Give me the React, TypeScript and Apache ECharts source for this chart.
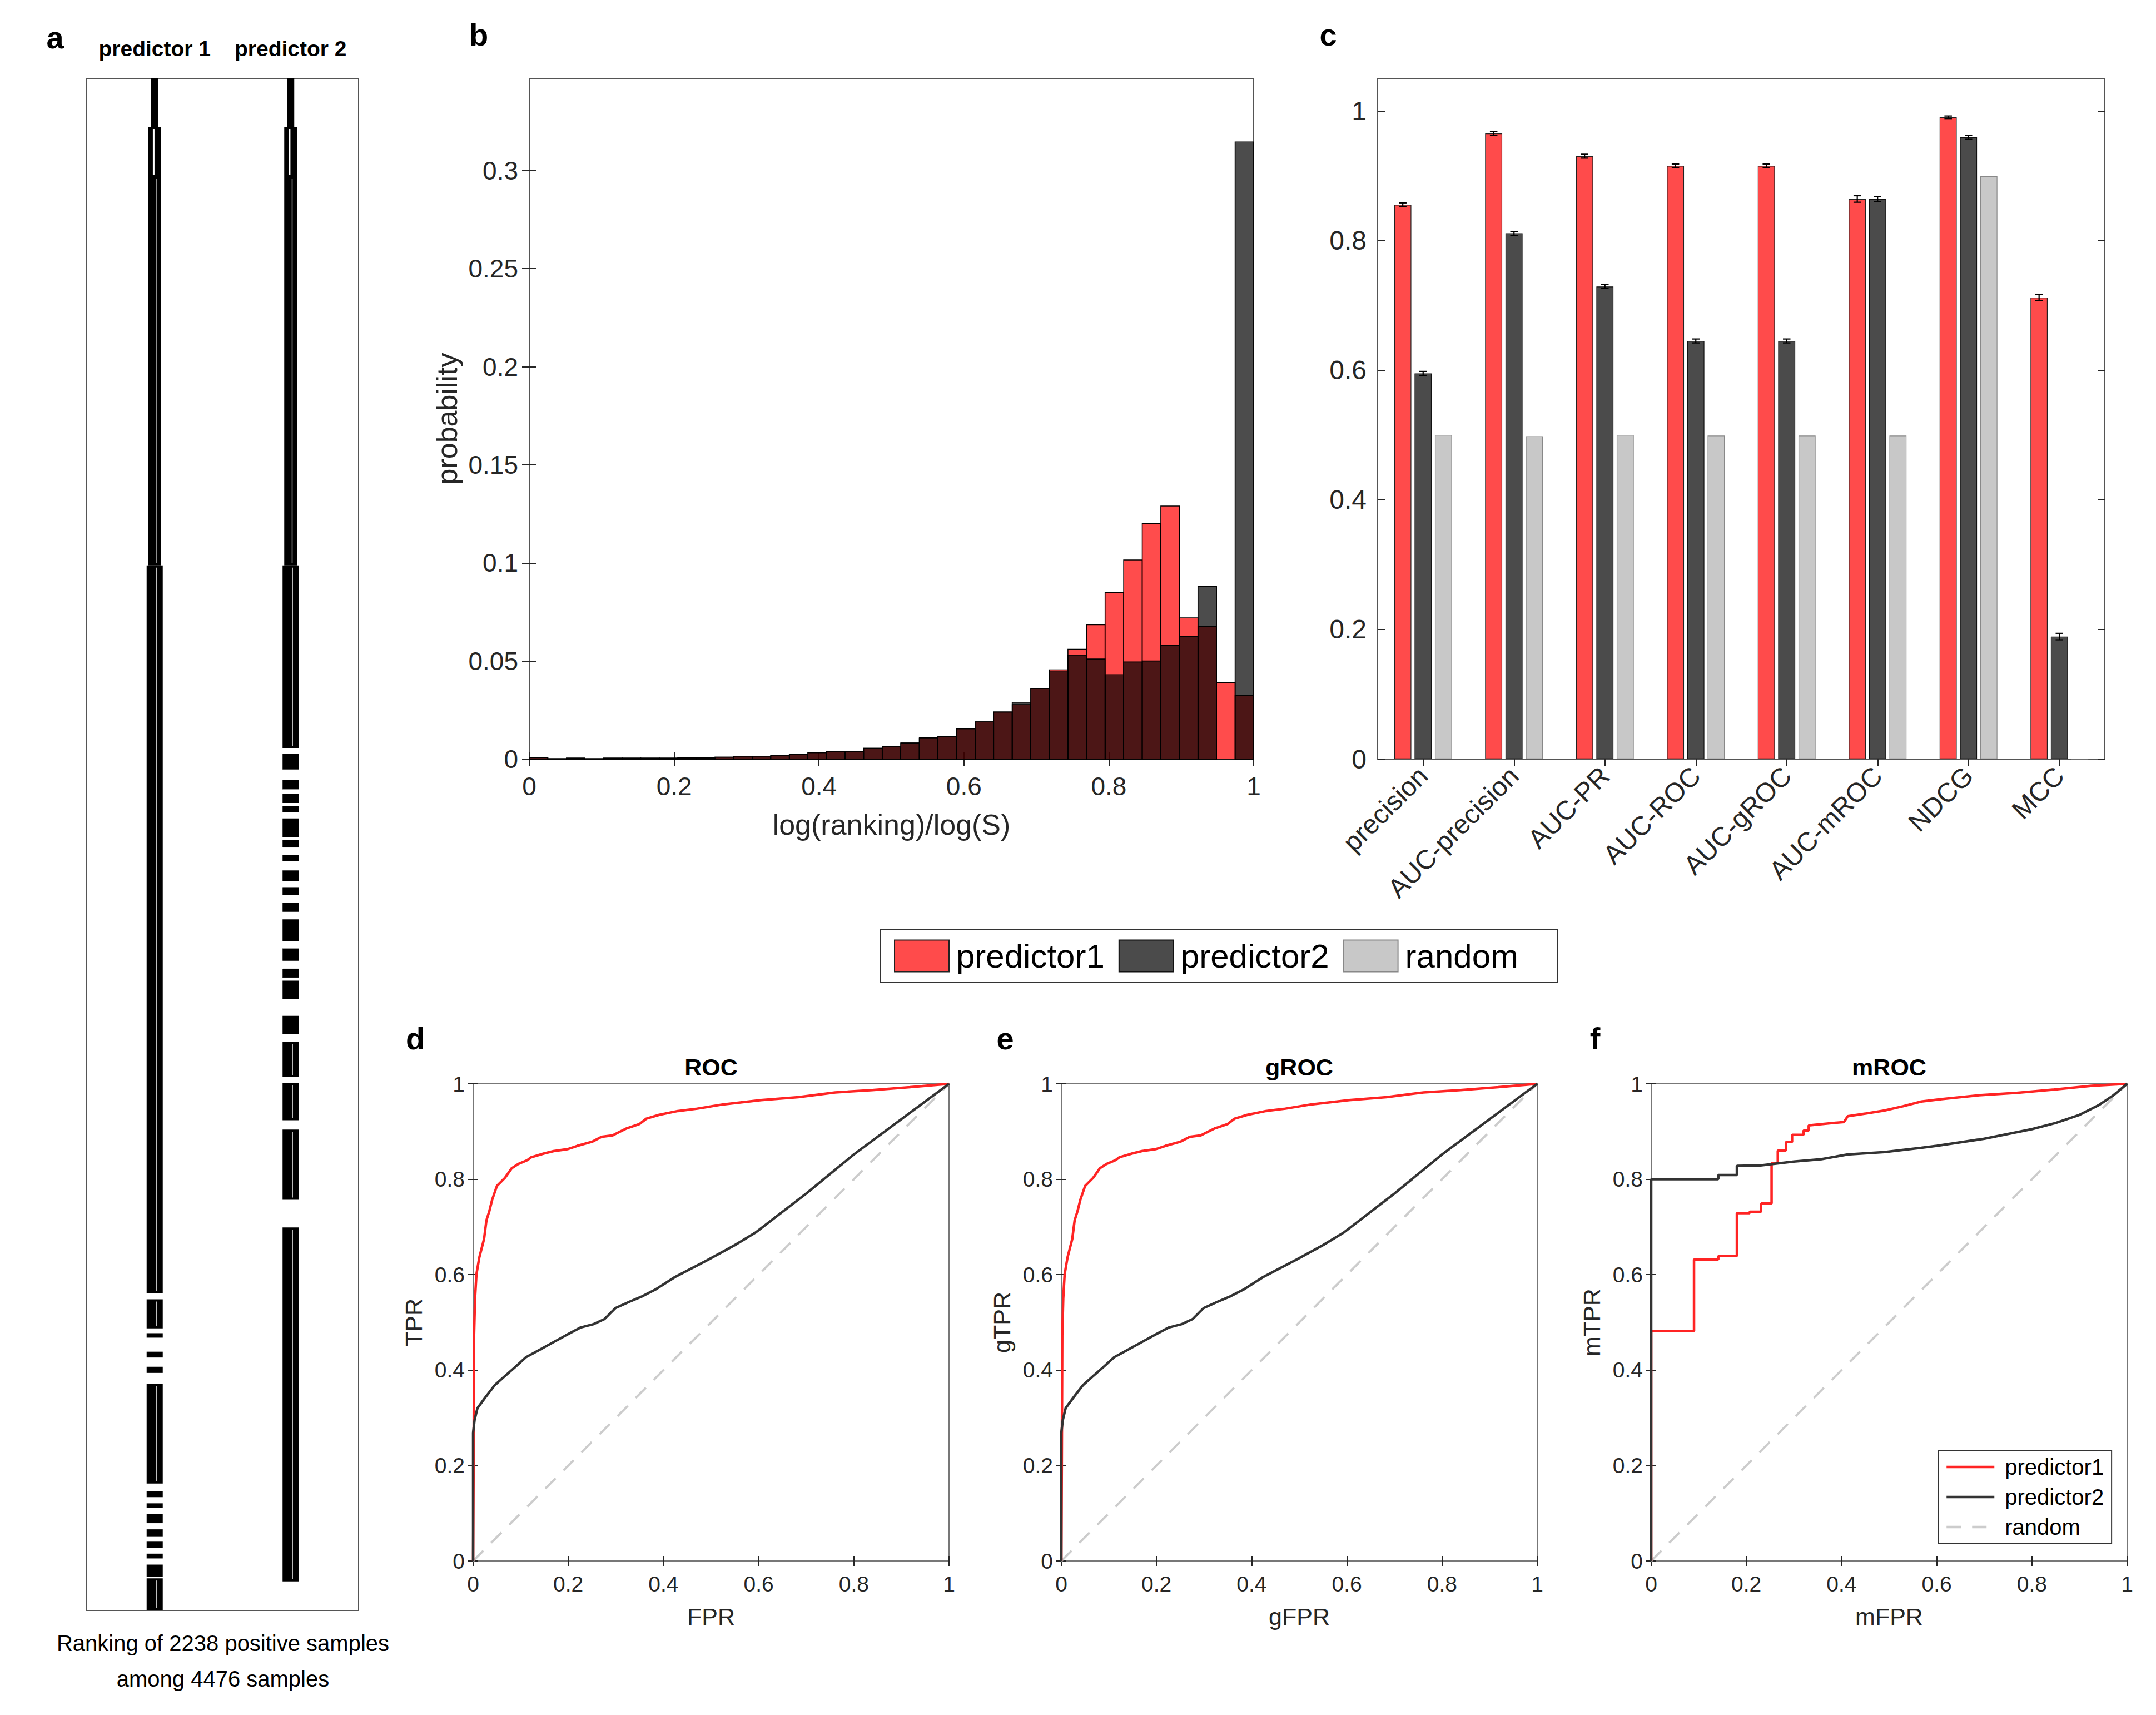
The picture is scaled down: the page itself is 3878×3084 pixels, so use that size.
import React, { useEffect, useRef } from 'react';
import * as echarts from 'echarts';

const W = 3878;
const H = 3084;
const FONT = "'Liberation Sans', Arial, Helvetica, sans-serif";

// ---------- panel a: ranking of positive samples (rank ranges, tier = digits of rank label)
const TOTAL_SAMPLES = 4476;
const rankP1: number[][] = [
  [0, 143, 1], [143, 286, 2], [286, 1423, 3], [1423, 3550, 4],
  [3567, 3652, 4], [3666, 3679, 4], [3720, 3737, 4], [3764, 3782, 4],
  [3814, 4105, 4], [4127, 4145, 4], [4163, 4176, 4], [4194, 4221, 4],
  [4239, 4261, 4], [4275, 4293, 4], [4310, 4324, 4], [4342, 4378, 4],
  [4382, 4476, 4],
];
const rankP2: number[][] = [
  [0, 143, 1], [143, 286, 2], [286, 1423, 3], [1423, 1956, 4],
  [1974, 2019, 4], [2050, 2077, 4], [2090, 2117, 4], [2126, 2144, 4],
  [2162, 2216, 4], [2225, 2247, 4], [2269, 2287, 4], [2314, 2345, 4],
  [2363, 2386, 4], [2408, 2435, 4], [2457, 2520, 4], [2542, 2578, 4],
  [2601, 2627, 4], [2636, 2690, 4], [2739, 2793, 4], [2815, 2918, 4],
  [2936, 3044, 4], [3071, 3276, 4], [3357, 4391, 4],
];
const predictorCols = ['predictor 1', 'predictor 2'];

// ---------- panel b: histogram of log(ranking)/log(S), 39 bins on [0,1]
const HIST_BINS = 39;
const histP1 = [
  0.0008, 0.0002, 0.0005, 0.0002, 0.0005, 0.0005, 0.0005, 0.0005, 0.0006, 0.0006,
  0.001, 0.0015, 0.0015, 0.002, 0.0025, 0.0033, 0.004, 0.004, 0.0055, 0.0065,
  0.008, 0.0105, 0.0115, 0.0155, 0.019, 0.024, 0.0278, 0.036, 0.0455, 0.056,
  0.0685, 0.085, 0.1015, 0.12, 0.129, 0.072, 0.0675, 0.039, 0.0325,
];
const histP2 = [
  0.0008, 0.0002, 0.0005, 0.0002, 0.0005, 0.0005, 0.0005, 0.0005, 0.0006, 0.0006,
  0.001, 0.0015, 0.0015, 0.002, 0.0025, 0.0033, 0.004, 0.004, 0.0055, 0.0065,
  0.0085, 0.011, 0.0115, 0.0155, 0.019, 0.024, 0.029, 0.036, 0.0445, 0.053,
  0.051, 0.043, 0.0495, 0.05, 0.058, 0.0625, 0.088, 0, 0.3146,
];
const histYTicks = [0, 0.05, 0.1, 0.15, 0.2, 0.25, 0.3];
const unitTicks = [0, 0.2, 0.4, 0.6, 0.8, 1];

// ---------- panel c: metrics
const metrics = ['precision', 'AUC-precision', 'AUC-PR', 'AUC-ROC', 'AUC-gROC', 'AUC-mROC', 'NDCG', 'MCC'];
const metricP1 = [0.855, 0.965, 0.930, 0.915, 0.915, 0.864, 0.990, 0.712];
const metricP2 = [0.595, 0.811, 0.729, 0.645, 0.645, 0.864, 0.959, 0.189];
const metricRandom = [0.500, 0.498, 0.500, 0.499, 0.499, 0.499, 0.899, 0];
const errP1 = [0.003, 0.003, 0.003, 0.003, 0.003, 0.005, 0.002, 0.005];
const errP2 = [0.003, 0.003, 0.003, 0.003, 0.003, 0.004, 0.003, 0.005];

// ---------- panels d, e: ROC / gROC curves
const rocP1 = [
  [0, 0], [0.001, 0.2], [0.002, 0.473], [0.004, 0.55], [0.007, 0.601], [0.013, 0.636],
  [0.023, 0.675], [0.028, 0.714], [0.034, 0.733], [0.04, 0.757], [0.05, 0.786],
  [0.067, 0.803], [0.081, 0.823], [0.095, 0.832], [0.114, 0.84], [0.122, 0.846],
  [0.149, 0.854], [0.169, 0.859], [0.198, 0.863], [0.219, 0.87], [0.251, 0.879],
  [0.27, 0.889], [0.293, 0.892], [0.321, 0.906], [0.35, 0.916], [0.364, 0.927],
  [0.391, 0.935], [0.43, 0.943], [0.471, 0.948], [0.526, 0.957], [0.605, 0.966],
  [0.683, 0.972], [0.761, 0.982], [0.839, 0.987], [0.918, 0.993], [1, 1],
];
const rocP2 = [
  [0, 0], [0, 0.269], [0.003, 0.295], [0.009, 0.32], [0.025, 0.342], [0.045, 0.368],
  [0.064, 0.385], [0.088, 0.406], [0.111, 0.427], [0.135, 0.44], [0.166, 0.457],
  [0.197, 0.474], [0.225, 0.489], [0.252, 0.496], [0.276, 0.507], [0.299, 0.53],
  [0.33, 0.544], [0.356, 0.555], [0.385, 0.57], [0.424, 0.595], [0.495, 0.632],
  [0.55, 0.662], [0.593, 0.688], [0.7, 0.77], [0.8, 0.852], [0.9, 0.926], [1, 1],
];
const gRocP1 = rocP1;
const gRocP2 = rocP2;

// ---------- panel f: mROC curves
const mRocP1 = [
  [0, 0], [0, 0.482], [0.09, 0.482], [0.09, 0.632], [0.141, 0.632], [0.141, 0.639],
  [0.18, 0.639], [0.18, 0.729], [0.207, 0.729], [0.207, 0.732], [0.231, 0.732],
  [0.231, 0.749], [0.253, 0.749], [0.253, 0.834], [0.266, 0.834], [0.266, 0.86],
  [0.283, 0.86], [0.283, 0.878], [0.296, 0.878], [0.296, 0.893], [0.32, 0.893],
  [0.32, 0.902], [0.331, 0.902], [0.331, 0.913], [0.405, 0.92], [0.413, 0.932],
  [0.452, 0.938], [0.49, 0.944], [0.529, 0.953], [0.568, 0.963], [0.61, 0.968],
  [0.689, 0.976], [0.768, 0.981], [0.847, 0.988], [0.926, 0.996], [1, 1],
];
const mRocP2 = [
  [0, 0], [0, 0.8], [0.141, 0.8], [0.141, 0.809], [0.18, 0.809], [0.18, 0.828],
  [0.23, 0.829], [0.3, 0.837], [0.358, 0.842], [0.413, 0.852], [0.49, 0.857],
  [0.568, 0.866], [0.6, 0.87], [0.7, 0.885], [0.8, 0.905], [0.85, 0.918],
  [0.9, 0.935], [0.94, 0.955], [0.97, 0.975], [1, 1],
];
const randomDiag = [[0, 0], [1, 1]];

// ---------- styling
const RED_BAR = '#FF4B4B';
const DARK_BAR = '#4B4B4B';
const LIGHT_BAR = '#C8C8C8';
const RED_LINE = '#FF2424';
const DARK_LINE = '#333333';
const TXT = '#262626';
const TIER_W = [13, 23, 23, 29];
const CURVE_W = 4.5;

const fmt = (v: number) => String(parseFloat(Number(v).toFixed(4)));

function valueAxis(o: any) {
  return {
    type: 'value',
    gridIndex: o.grid,
    position: o.position,
    min: o.min,
    max: o.max,
    axisLine: { show: false },
    splitLine: { show: false },
    axisTick: {
      show: true, inside: true, length: o.tickLen,
      lineStyle: { color: TXT, width: 2 }, customValues: o.ticks,
    },
    axisLabel: {
      show: !!o.labels, customValues: o.ticks, formatter: fmt,
      fontSize: o.fontSize, fontFamily: FONT, color: TXT, margin: o.margin,
    },
    name: o.name || '',
    nameLocation: 'middle',
    nameGap: o.nameGap || 0,
    nameRotate: o.nameRotate,
    nameTextStyle: { fontSize: o.nameSize, fontFamily: FONT, color: TXT },
  };
}

function histRender(fill: string) {
  return (params: any, api: any) => {
    const lo = api.value(0);
    const hi = api.value(1);
    const v = api.value(2);
    if (!(v > 0)) return null;
    const a = api.coord([lo, v]);
    const b = api.coord([hi, 0]);
    return {
      type: 'rect',
      shape: { x: a[0], y: a[1], width: b[0] - a[0], height: b[1] - a[1] },
      style: { fill, stroke: '#000', lineWidth: 1.6 },
    };
  };
}

function rankRender(params: any, api: any) {
  const col = api.value(0);
  const y0 = api.value(1);
  const y1 = api.value(2);
  const tier = api.value(3);
  const top = api.coord([col, y0]);
  const bot = api.coord([col, y1]);
  const w = TIER_W[tier - 1];
  const x = top[0] - w / 2;
  const h = Math.max(bot[1] - top[1], 3);
  const children: any[] = [
    { type: 'rect', shape: { x, y: top[1], width: w, height: h }, style: { fill: '#000' } },
  ];
  if (tier === 2 && h > 8) {
    children.push({
      type: 'line',
      shape: { x1: x + w * 0.42, y1: top[1] + 3, x2: x + w * 0.42, y2: top[1] + h - 3 },
      style: { stroke: '#fff', lineWidth: 3 },
    });
  }
  if ((tier === 3 || tier === 4) && h > 40) {
    children.push({
      type: 'line',
      shape: { x1: x + w * 0.62, y1: top[1] + 4, x2: x + w * 0.62, y2: top[1] + h - 4 },
      style: { stroke: 'rgba(255,255,255,0.75)', lineWidth: 1.5 },
    });
  }
  return { type: 'group', children };
}

function errRender(k: number) {
  return (params: any, api: any) => {
    const idx = api.value(0);
    const val = api.value(1);
    const err = api.value(2);
    const c = api.coord([idx, val]);
    const bw = api.size([1, 0])[0];
    const barW = bw * 0.188;
    const cx = c[0] + (k - 1) * barW * 1.19;
    const yt = api.coord([idx, val + err])[1];
    const yb = api.coord([idx, val - err])[1];
    const cap = barW * 0.22;
    const st = { stroke: '#000', lineWidth: 2.2 };
    return {
      type: 'group',
      children: [
        { type: 'line', shape: { x1: cx, y1: yt, x2: cx, y2: yb }, style: st },
        { type: 'line', shape: { x1: cx - cap, y1: yt, x2: cx + cap, y2: yt }, style: st },
        { type: 'line', shape: { x1: cx - cap, y1: yb, x2: cx + cap, y2: yb }, style: st },
      ],
    };
  };
}

function lineSeries(name: string, data: number[][], axis: number, color: string, width: number, dashed = false, z = 3) {
  return {
    type: 'line', name, data, xAxisIndex: axis, yAxisIndex: axis,
    showSymbol: false, symbol: 'none', z,
    lineStyle: { color, width, type: dashed ? [26, 20] : 'solid' },
    itemStyle: { color },
  };
}

function text(t: string, x: number, y: number, size: number, bold = false) {
  return {
    type: 'text', x, y, z: 100,
    style: {
      text: t, fill: '#000', fontSize: size, fontWeight: bold ? 'bold' : 'normal',
      fontFamily: FONT, align: 'center', verticalAlign: 'middle',
    },
  };
}

function buildOption() {
  const gridBase = { show: true, backgroundColor: 'transparent', borderWidth: 2, containLabel: false };
  const grid = [
    { ...gridBase, left: 156, top: 141, width: 489, height: 2755, borderColor: '#555' },
    { ...gridBase, left: 952, top: 141, width: 1303, height: 1224, borderColor: '#555' },
    { ...gridBase, left: 2478, top: 141, width: 1308, height: 1224, borderColor: '#555' },
    { ...gridBase, left: 851, top: 1949, width: 856, height: 858, borderColor: '#777' },
    { ...gridBase, left: 1909, top: 1949, width: 856, height: 858, borderColor: '#777' },
    { ...gridBase, left: 2970, top: 1949, width: 856, height: 858, borderColor: '#777' },
  ];

  const rocX = (g: number, name: string) => [
    valueAxis({ grid: g, position: 'bottom', min: 0, max: 1, ticks: unitTicks, tickLen: 9, labels: true, fontSize: 39, margin: 22, name, nameGap: 78, nameSize: 43 }),
    valueAxis({ grid: g, position: 'top', min: 0, max: 1, ticks: unitTicks, tickLen: 9, labels: false }),
  ];
  const rocY = (g: number, name: string) => [
    valueAxis({ grid: g, position: 'left', min: 0, max: 1, ticks: unitTicks, tickLen: 9, labels: true, fontSize: 39, margin: 15, name, nameGap: 86, nameRotate: 90, nameSize: 43 }),
    valueAxis({ grid: g, position: 'right', min: 0, max: 1, ticks: unitTicks, tickLen: 9, labels: false }),
  ];

  const catTick = { show: true, inside: true, alignWithLabel: true, length: 13, lineStyle: { color: TXT, width: 2 } };

  const xAxis: any[] = [
    {
      type: 'category', gridIndex: 0, position: 'top', data: predictorCols,
      axisLine: { show: false }, axisTick: { show: false }, splitLine: { show: false },
      axisLabel: { interval: 0, fontSize: 39, fontWeight: 'bold', fontFamily: FONT, color: '#000', margin: 34 },
    },
    valueAxis({ grid: 1, position: 'bottom', min: 0, max: 1, ticks: unitTicks, tickLen: 13, labels: true, fontSize: 46, margin: 26, name: 'log(ranking)/log(S)', nameGap: 92, nameSize: 52 }),
    valueAxis({ grid: 1, position: 'top', min: 0, max: 1, ticks: unitTicks, tickLen: 13, labels: false }),
    {
      type: 'category', gridIndex: 2, position: 'bottom', data: metrics,
      axisLine: { show: false }, axisTick: catTick, splitLine: { show: false },
      axisLabel: { rotate: 45, interval: 0, fontSize: 48, fontFamily: FONT, color: TXT, margin: 22 },
    },
    {
      type: 'category', gridIndex: 2, position: 'top', data: metrics,
      axisLine: { show: false }, axisTick: catTick, splitLine: { show: false },
      axisLabel: { show: false },
    },
    ...rocX(3, 'FPR'),
    ...rocX(4, 'gFPR'),
    ...rocX(5, 'mFPR'),
  ];

  const yAxis: any[] = [
    { type: 'value', gridIndex: 0, min: 0, max: TOTAL_SAMPLES, inverse: true, show: false, splitLine: { show: false } },
    valueAxis({ grid: 1, position: 'left', min: 0, max: 0.347, ticks: histYTicks, tickLen: 13, labels: true, fontSize: 46, margin: 20, name: 'probability', nameGap: 122, nameRotate: 90, nameSize: 52 }),
    valueAxis({ grid: 1, position: 'right', min: 0, max: 0.347, ticks: histYTicks, tickLen: 13, labels: false }),
    valueAxis({ grid: 2, position: 'left', min: 0, max: 1.05, ticks: unitTicks, tickLen: 13, labels: true, fontSize: 48, margin: 20 }),
    valueAxis({ grid: 2, position: 'right', min: 0, max: 1.05, ticks: unitTicks, tickLen: 13, labels: false }),
    ...rocY(3, 'TPR'),
    ...rocY(4, 'gTPR'),
    ...rocY(5, 'mTPR'),
  ];

  const barBase = { type: 'bar', xAxisIndex: 3, yAxisIndex: 3, barWidth: '18.8%', barGap: '19%' };

  const series: any[] = [
    // panel a
    {
      type: 'custom', name: 'ranking predictor 1', xAxisIndex: 0, yAxisIndex: 0,
      data: rankP1.map((s) => [0, s[0], s[1], s[2]]), encode: { x: 0, y: [1, 2] },
      renderItem: rankRender,
    },
    {
      type: 'custom', name: 'ranking predictor 2', xAxisIndex: 0, yAxisIndex: 0,
      data: rankP2.map((s) => [1, s[0], s[1], s[2]]), encode: { x: 0, y: [1, 2] },
      renderItem: rankRender,
    },
    // panel b
    {
      type: 'custom', name: 'hist predictor1', xAxisIndex: 1, yAxisIndex: 1,
      data: histP1.map((v, i) => [i / HIST_BINS, (i + 1) / HIST_BINS, v]),
      encode: { x: [0, 1], y: 2 }, renderItem: histRender('rgba(255,0,0,0.7)'), z: 2,
    },
    {
      type: 'custom', name: 'hist predictor2', xAxisIndex: 1, yAxisIndex: 1,
      data: histP2.map((v, i) => [i / HIST_BINS, (i + 1) / HIST_BINS, v]),
      encode: { x: [0, 1], y: 2 }, renderItem: histRender('rgba(0,0,0,0.7)'), z: 3,
    },
    // panel c
    { ...barBase, name: 'predictor1', data: metricP1, itemStyle: { color: RED_BAR, borderColor: '#222', borderWidth: 1.2 } },
    { ...barBase, name: 'predictor2', data: metricP2, itemStyle: { color: DARK_BAR, borderColor: '#111', borderWidth: 1.2 } },
    { ...barBase, name: 'random', data: metricRandom, itemStyle: { color: LIGHT_BAR, borderColor: '#888', borderWidth: 1.2 } },
    {
      type: 'custom', name: 'err predictor1', xAxisIndex: 3, yAxisIndex: 3, z: 5,
      data: metricP1.map((v, i) => [i, v, errP1[i]]), encode: { x: 0, y: 1 }, renderItem: errRender(0),
    },
    {
      type: 'custom', name: 'err predictor2', xAxisIndex: 3, yAxisIndex: 3, z: 5,
      data: metricP2.map((v, i) => [i, v, errP2[i]]), encode: { x: 0, y: 1 }, renderItem: errRender(1),
    },
    // panel d
    lineSeries('ROC predictor1', rocP1, 5, RED_LINE, CURVE_W, false, 3),
    lineSeries('ROC predictor2', rocP2, 5, DARK_LINE, CURVE_W, false, 4),
    lineSeries('ROC random', randomDiag, 5, '#CCCCCC', 4, true, 2),
    // panel e
    lineSeries('gROC predictor1', gRocP1, 7, RED_LINE, CURVE_W, false, 3),
    lineSeries('gROC predictor2', gRocP2, 7, DARK_LINE, CURVE_W, false, 4),
    lineSeries('gROC random', randomDiag, 7, '#CCCCCC', 4, true, 2),
    // panel f
    lineSeries('mROC predictor1', mRocP1, 9, RED_LINE, CURVE_W, false, 3),
    lineSeries('mROC predictor2', mRocP2, 9, DARK_LINE, CURVE_W, false, 4),
    lineSeries('mROC random', randomDiag, 9, '#CCCCCC', 4, true, 2),
  ];

  const legend = [
    {
      data: ['predictor1', 'predictor2', 'random'],
      left: 1583, top: 1672, orient: 'horizontal',
      itemWidth: 98, itemHeight: 57, itemGap: 25,
      padding: [17, 70, 17, 25],
      borderColor: '#333', borderWidth: 2, backgroundColor: '#fff',
      icon: 'rect', selectedMode: false,
      textStyle: { fontSize: 60, fontFamily: FONT, color: '#000', padding: [0, 0, 0, 8] },
    },
    {
      data: ['mROC predictor1', 'mROC predictor2', 'mROC random'],
      formatter: (n: string) => n.replace('mROC ', ''),
      left: 3487, top: 2609, orient: 'vertical',
      itemWidth: 86, itemHeight: 4, itemGap: 10,
      padding: [7, 14, 7, 12],
      borderColor: '#333', borderWidth: 2, backgroundColor: '#fff',
      selectedMode: false, z: 20,
      itemStyle: { opacity: 0 },
      lineStyle: { width: 4.5 },
      textStyle: { fontSize: 40, lineHeight: 44, fontFamily: FONT, color: '#000', padding: [0, 0, 0, 14] },
    },
  ];

  const graphic = [
    text('a', 99, 67, 56, true),
    text('b', 861, 62, 56, true),
    text('c', 2389, 62, 56, true),
    text('d', 747, 1867, 56, true),
    text('e', 1808, 1867, 56, true),
    text('f', 2869, 1867, 56, true),
    text('ROC', 1279, 1919, 43, true),
    text('gROC', 2337, 1919, 43, true),
    text('mROC', 3398, 1919, 43, true),
    text('Ranking of 2238 positive samples', 401, 2955, 40),
    text('among 4476 samples', 401, 3019, 40),
  ];

  return {
    animation: false,
    backgroundColor: '#fff',
    grid, xAxis, yAxis, series, legend, graphic,
  };
}

export default function App() {
  const ref = useRef<HTMLDivElement>(null);
  useEffect(() => {
    if (!ref.current) return;
    const chart = echarts.init(ref.current, null, { renderer: 'svg' });
    chart.setOption(buildOption() as any);
    return () => chart.dispose();
  }, []);
  return (
    <div
      ref={ref}
      style={{ position: 'absolute', left: 0, top: 0, width: W, height: H, background: '#fff' }}
    />
  );
}
